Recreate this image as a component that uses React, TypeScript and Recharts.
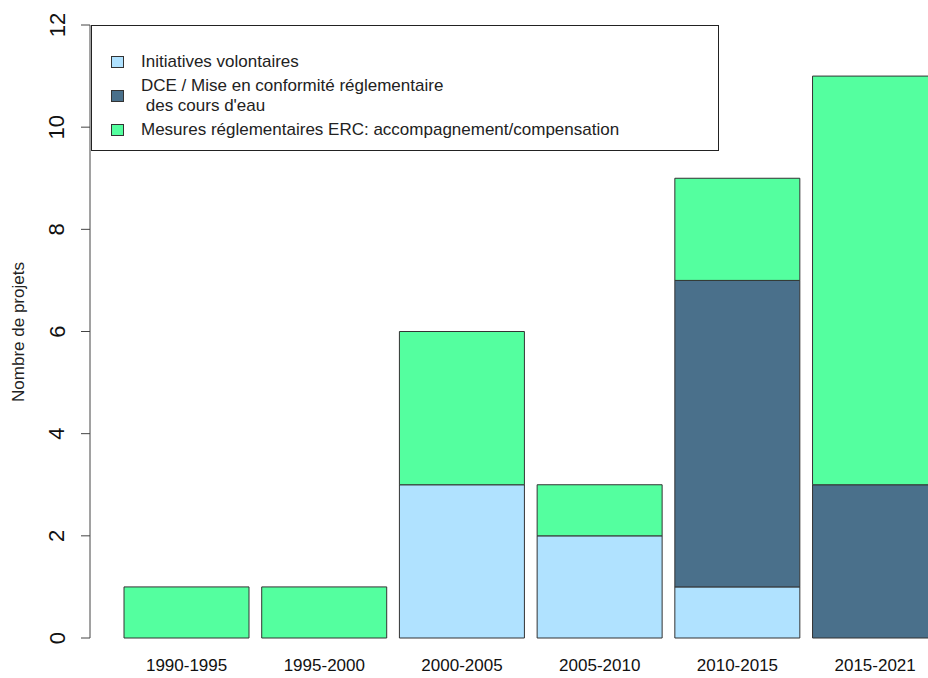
import { Bar, BarChart, Label, Legend, XAxis, YAxis } from "recharts";

const periods = ["1990-1995", "1995-2000", "2000-2005", "2005-2010", "2010-2015", "2015-2021"];
const volontaires = [0, 0, 3, 2, 1, 0];
const dce = [0, 0, 0, 0, 6, 3];
const erc = [1, 1, 3, 1, 2, 8];
const yTicks = [0, 2, 4, 6, 8, 10, 12];

const series = [
  { key: "volontaires", color: "#B0E2FF", label: ["Initiatives volontaires"] },
  { key: "dce", color: "#4A708B", label: ["DCE / Mise en conformité réglementaire", " des cours d'eau"] },
  { key: "erc", color: "#54FF9F", label: ["Mesures réglementaires ERC: accompagnement/compensation"] },
];

const chartData = periods.map((period, i) => ({
  period,
  volontaires: volontaires[i],
  dce: dce[i],
  erc: erc[i],
}));

const FONT = "Arial, 'Liberation Sans', sans-serif";

const YTick = (props: any) => {
  const { x, y, payload } = props;
  const cx = x - 22;
  return (
    <text
      x={cx}
      y={y}
      transform={`rotate(-90, ${cx}, ${y})`}
      textAnchor="middle"
      dominantBaseline="central"
      fontSize={22}
      fontFamily={FONT}
      fill="#111"
    >
      {payload.value}
    </text>
  );
};

const XTick = (props: any) => {
  const { x, payload } = props;
  return (
    <text x={x} y={665} textAnchor="middle" dominantBaseline="central" fontSize={17} fontFamily={FONT} fill="#111">
      {payload.value}
    </text>
  );
};

const YTitle = () => (
  <text
    x={18}
    y={332}
    transform="rotate(-90, 18, 332)"
    textAnchor="middle"
    dominantBaseline="central"
    fontSize={17}
    fontFamily={FONT}
    fill="#222"
  >
    Nombre de projets
  </text>
);

const LegendBox = () => (
  <div
    style={{
      width: 626,
      height: 124,
      border: "1px solid #222",
      background: "#fff",
      boxSizing: "content-box",
      position: "relative",
      fontFamily: FONT,
      fontSize: 17,
      color: "#222",
    }}
  >
    {series.map((s, i) => {
      const centers = [36, 70, 104];
      const c = centers[i];
      return (
        <div key={s.key}>
          <div
            style={{
              position: "absolute",
              left: 19,
              top: c - 6,
              width: 11,
              height: 10,
              background: s.color,
              border: "1px solid #333",
            }}
          />
          {s.label.map((line, j) => (
            <div
              key={j}
              style={{
                position: "absolute",
                left: 49,
                top: c - 10 + (s.label.length === 1 ? 0 : j === 0 ? -10 : 10),
                lineHeight: "20px",
                whiteSpace: "pre",
              }}
            >
              {line}
            </div>
          ))}
        </div>
      );
    })}
  </div>
);

export default function App() {
  return (
    <div style={{ position: "absolute", left: 0, top: 0, width: 928, height: 678, overflow: "hidden", background: "#fff" }}>
      <BarChart
        width={944}
        height={678}
        data={chartData}
        margin={{ top: 25, right: 0, bottom: 0, left: 0 }}
        barCategoryGap={6.25}
      >
        <XAxis
          dataKey="period"
          axisLine={false}
          tickLine={false}
          height={40}
          padding={{ left: 27.75, right: 0 }}
          tick={<XTick />}
          interval={0}
        />
        <YAxis
          width={90}
          domain={[0, 12]}
          ticks={yTicks}
          tickSize={9}
          tickLine={{ stroke: "#444" }}
          axisLine={{ stroke: "#444" }}
          tick={<YTick />}
          interval={0}
        >
          <Label content={<YTitle />} />
        </YAxis>
        <Legend
          layout="vertical"
          align="center"
          verticalAlign="middle"
          content={<LegendBox />}
          wrapperStyle={{ left: 91, top: 25, width: 628 }}
        />
        {series.map((s) => (
          <Bar
            key={s.key}
            dataKey={s.key}
            stackId="a"
            fill={s.color}
            stroke="#333"
            strokeWidth={1}
            isAnimationActive={false}
          />
        ))}
      </BarChart>
    </div>
  );
}
